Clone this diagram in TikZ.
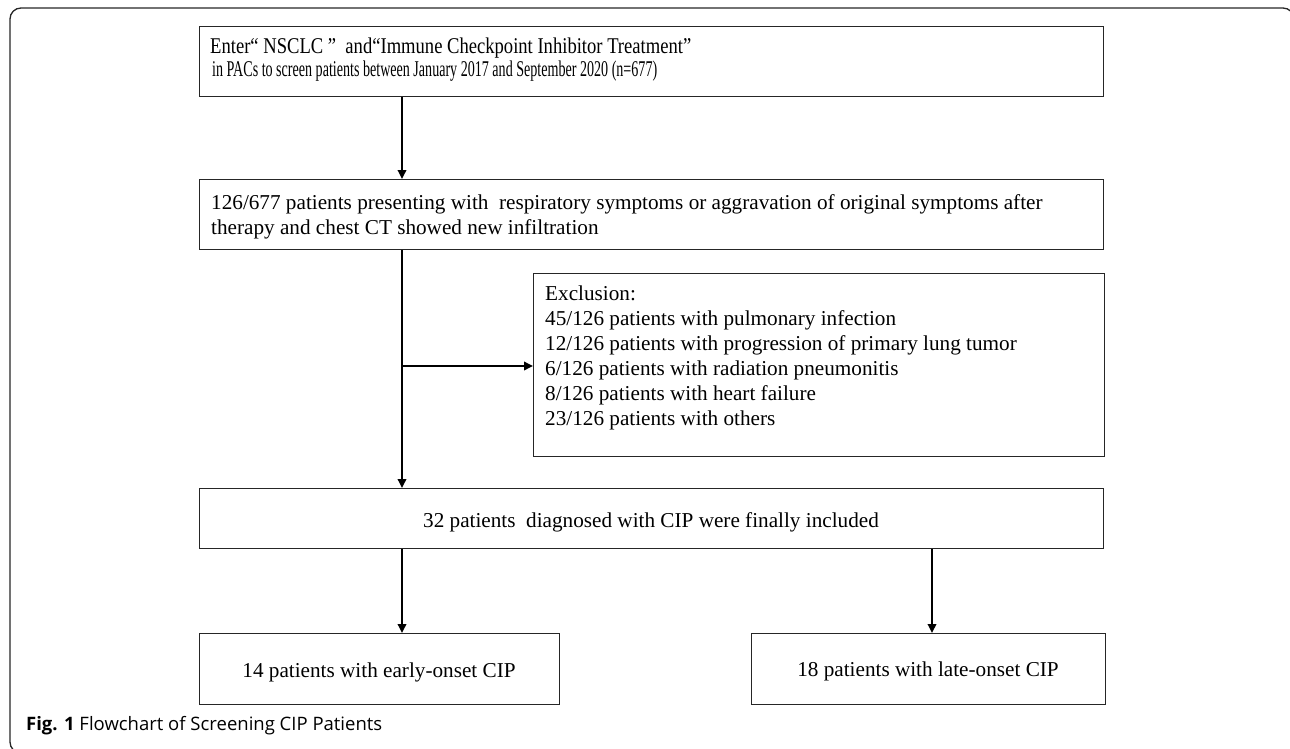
\documentclass[tikz,border=0pt]{standalone}
\usepackage{fontspec}
\setmainfont{Liberation Serif}
\newfontfamily\capfont{Open Sans}
\usetikzlibrary{arrows.meta}
\tikzset{
  box/.style={draw=black!85, line width=1.4pt, anchor=north west, inner sep=0pt},
  txt/.style={anchor=base west, inner sep=0pt, font=\fontsize{21.2}{25}\selectfont},
  arr/.style={draw=black, line width=1.8pt, -{Triangle[length=9pt,width=8.5pt]}}
}
\newcommand{\lines}[1]{\begin{tabular}[t]{@{}l@{}}#1\end{tabular}}
\begin{document}
\begin{tikzpicture}[x=1pt,y=-1pt]
\useasboundingbox (0,0) rectangle (1290,749);
\begin{scope}
\clip (0,0) rectangle (1290,749);
\draw[line width=1.3pt, draw=black!85, rounded corners=11pt] (10,8) rectangle (1294,753);
\end{scope}
% boxes
\node[box, minimum width=904pt, minimum height=70pt] (b1) at (199,26) {};
\node[box, minimum width=904pt, minimum height=70pt] (b2) at (199,179) {};
\node[box, minimum width=571pt, minimum height=183pt] (ex) at (533,273) {};
\node[box, minimum width=904pt, minimum height=60pt] (b3) at (199,488) {};
\node[box, minimum width=360pt, minimum height=71pt] (b4) at (199,633) {};
\node[box, minimum width=354pt, minimum height=71pt] (b5) at (751,633) {};
% texts
\node[anchor=base west, inner sep=0pt, font=\fontsize{22.5}{25}\selectfont] (t1a) at (210,54) {\resizebox{481pt}{\height}{Enter“ NSCLC ”\ \ and“Immune Checkpoint Inhibitor Treatment”}};
\node[anchor=base west, inner sep=0pt, font=\fontsize{22.5}{25}\selectfont] (t1b) at (212,77) {\resizebox{445pt}{\height}{in PACs to screen patients between January 2017 and September 2020 (n=677)}};
\node[txt] (t2) at (211,209) {\lines{126/677 patients presenting with\ \ respiratory symptoms or aggravation of original symptoms after\\therapy and chest CT showed new infiltration}};
\node[txt] (tex) at (545,300) {\lines{Exclusion:\\45/126 patients with pulmonary infection\\12/126 patients with progression of primary lung tumor\\6/126 patients with radiation pneumonitis\\8/126 patients with heart failure\\23/126 patients with others}};
\node[txt, anchor=base] (t3) at (651,527) {32 patients\ \ diagnosed with CIP were finally included};
\node[txt, anchor=base] (t4) at (379,677) {14 patients with early-onset CIP};
\node[txt, anchor=base] (t5) at (928,676) {18 patients with late-onset CIP};
% connectors
\coordinate (sp) at (402,0);
\coordinate (rp) at (932,0);
\draw[arr] (b1.south -| sp) -- (b2.north -| sp);
\draw[arr] (b2.south -| sp) -- (b3.north -| sp);
\coordinate (br) at (sp |- 0,366);
\draw[arr] (br) -- (br -| ex.west);
\draw[arr] (b3.south -| sp) -- (b4.north -| sp);
\draw[arr] (b3.south -| rp) -- (b5.north -| rp);
% caption
\node[anchor=base west, inner sep=0pt, font=\capfont\fontsize{18.5}{21}\selectfont] (cap) at (26,730) {\textbf{Fig. 1} Flowchart of Screening CIP Patients};
\end{tikzpicture}
\end{document}
